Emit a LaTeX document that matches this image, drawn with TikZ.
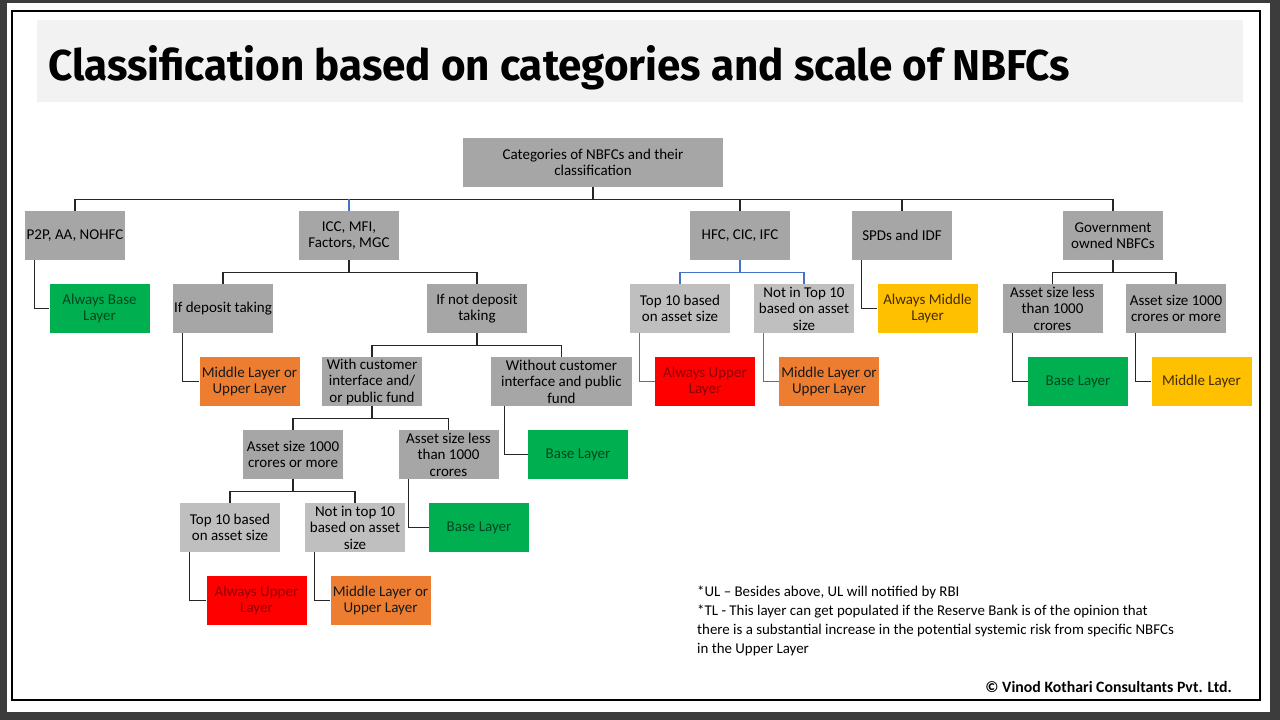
\documentclass[tikz,border=0pt]{standalone}
\usepackage{fontspec}
\setmainfont{Carlito}
\newfontfamily\titlefont{Fira Sans}
\usepackage{tikz}
\usetikzlibrary{calc}

\definecolor{boxgray}{HTML}{A6A6A6}
\definecolor{boxlite}{HTML}{BFBFBF}
\definecolor{laygreen}{HTML}{00B050}
\definecolor{layred}{HTML}{FF0000}
\definecolor{layorange}{HTML}{ED7D31}
\definecolor{layyellow}{HTML}{FFC000}
\definecolor{linkblue}{HTML}{4472C4}
\definecolor{framegray}{HTML}{3C3C3C}

\begin{document}
\begin{tikzpicture}[
  x=1pt,y=-1pt,
  cat/.style={fill=boxgray, minimum width=100pt, minimum height=49pt, inner sep=1pt, align=center, font=\fontsize{15}{16.5}\selectfont},
  lite/.style={cat, fill=boxlite},
  baselay/.style={cat, fill=laygreen, text={rgb,255:red,0;green,70;blue,30}},
  upperlay/.style={cat, fill=layred, text={rgb,255:red,140;green,0;blue,6}},
  midup/.style={cat, fill=layorange, text=black!90},
  midlay/.style={cat, fill=layyellow, text={rgb,255:red,70;green,45;blue,0}},
  link/.style={draw=black!85, line width=1.1pt},
  bluelink/.style={draw=linkblue, line width=1.1pt},
  note/.style={font=\fontsize{14.9}{19}\selectfont, align=left}
]
  \useasboundingbox (0,0) rectangle (1280,720);
  \fill[framegray] (0,0) rectangle (1280,720);
  \fill[white] (7,3) rectangle (1270,712);
  \draw[black, line width=1.2pt] (12,11) rectangle (1260,700);
  \fill[black!5] (37,20) rectangle (1243,102);
  \node[anchor=base west, inner sep=0pt] (title) at (48,80)
    {\resizebox{1022pt}{35pt}{\titlefont\bfseries Classification based on categories and scale of NBFCs}};

  \node[cat, minimum width=260pt] (root) at (593,162.5) {Categories of NBFCs and their\\classification};

  \node[cat] (p2p) at (75,235.5) {P2P, AA, NOHFC};
  \node[cat] (icc) at (349,235.5) {ICC, MFI,\\Factors, MGC};
  \node[cat] (hfc) at (740,235.5) {HFC, CIC, IFC};
  \node[cat] (spd) at (902,235.5) {SPDs and IDF};
  \node[cat] (gov) at (1113,235.5) {Government\\owned NBFCs};

  \node[baselay] (alwbase) at (99.5,308.5) {Always Base\\Layer};
  \node[cat] (ifdep) at (223,308.5) {If deposit taking};
  \node[cat] (ifnot) at (477,308.5) {If not deposit\\taking};
  \node[lite] (hfctop) at (680,308.5) {Top 10 based\\on asset size};
  \node[lite] (hfcnot) at (804,308.5) {Not in Top 10\\based on asset\\size};
  \node[midlay] (alwmid) at (927.5,308.5) {Always Middle\\Layer};
  \node[cat] (govless) at (1052.5,308.5) {Asset size less\\than 1000\\crores};
  \node[cat] (govmore) at (1176,308.5) {Asset size 1000\\crores or more};

  \node[midup] (depmid) at (249.5,381.5) {Middle Layer or\\Upper Layer};
  \node[cat] (withc) at (372,381.5) {With customer\\interface and/\\or public fund};
  \node[cat, minimum width=141pt] (withoutc) at (561.5,381.5) {Without customer\\interface and public\\fund};
  \node[upperlay] (hfcup) at (705,381.5) {Always Upper\\Layer};
  \node[midup] (hfcmid) at (829,381.5) {Middle Layer or\\Upper Layer};
  \node[baselay] (govbase) at (1078,381.5) {Base Layer};
  \node[midlay] (govmid) at (1201.5,381.5) {Middle Layer};

  \node[cat] (big) at (293,454.5) {Asset size 1000\\crores or more};
  \node[cat] (small) at (448.5,454.5) {Asset size less\\than 1000\\crores};
  \node[baselay] (wobase) at (578,454.5) {Base Layer};

  \node[lite] (bigtop) at (230,527.5) {Top 10 based\\on asset size};
  \node[lite] (bignot) at (355,527.5) {Not in top 10\\based on asset\\size};
  \node[baselay] (smallbase) at (479,527.5) {Base Layer};

  \node[upperlay] (bigup) at (256.5,600.5) {Always Upper\\Layer};
  \node[midup] (bigmid) at (380.5,600.5) {Middle Layer or\\Upper Layer};

  \foreach \c in {p2p,icc,hfc,spd,gov}
    \draw[link] (root.south) -- ++(0,12) -| (\c.north);
  \draw[bluelink] (icc.north) -- ++(0,-12);
  \foreach \p/\a/\b in {icc/ifdep/ifnot, ifnot/withc/withoutc, withc/big/small, big/bigtop/bignot, gov/govless/govmore} {
    \draw[link] (\p.south) -- ++(0,12) -| (\a.north);
    \draw[link] (\p.south) -- ++(0,12) -| (\b.north);
  }
  \draw[bluelink] (hfc.south) -- ++(0,12) -| (hfctop.north);
  \draw[bluelink] (hfc.south) -- ++(0,12) -| (hfcnot.north);

  \foreach \p/\q in {p2p/alwbase, ifdep/depmid, small/smallbase, bigtop/bigup, bignot/bigmid, spd/alwmid, govless/govbase, govmore/govmid}
    \draw[link] ([xshift=10pt]\p.south west) |- (\q.west);
  \draw[link] ([xshift=14pt]withoutc.south west) |- (wobase.west);
  \draw[bluelink] ([xshift=10pt]hfctop.south west) |- (hfcup.west);
  \draw[bluelink] ([xshift=10pt]hfcnot.south west) |- (hfcmid.west);

  \node[note, anchor=north west, inner sep=0pt] (notes) at (697,586)
    {*UL -- Besides above, UL will notified by RBI\\
     *TL - This layer can get populated if the Reserve Bank is of the opinion that\\
     there is a substantial increase in the potential systemic risk from specific NBFCs\\
     in the Upper Layer};
  \node[anchor=base east, inner sep=0pt, font=\fontsize{15.8}{18}\selectfont\bfseries] (credit) at (1232,692)
    {© Vinod Kothari Consultants Pvt. Ltd.};
\end{tikzpicture}
\end{document}
